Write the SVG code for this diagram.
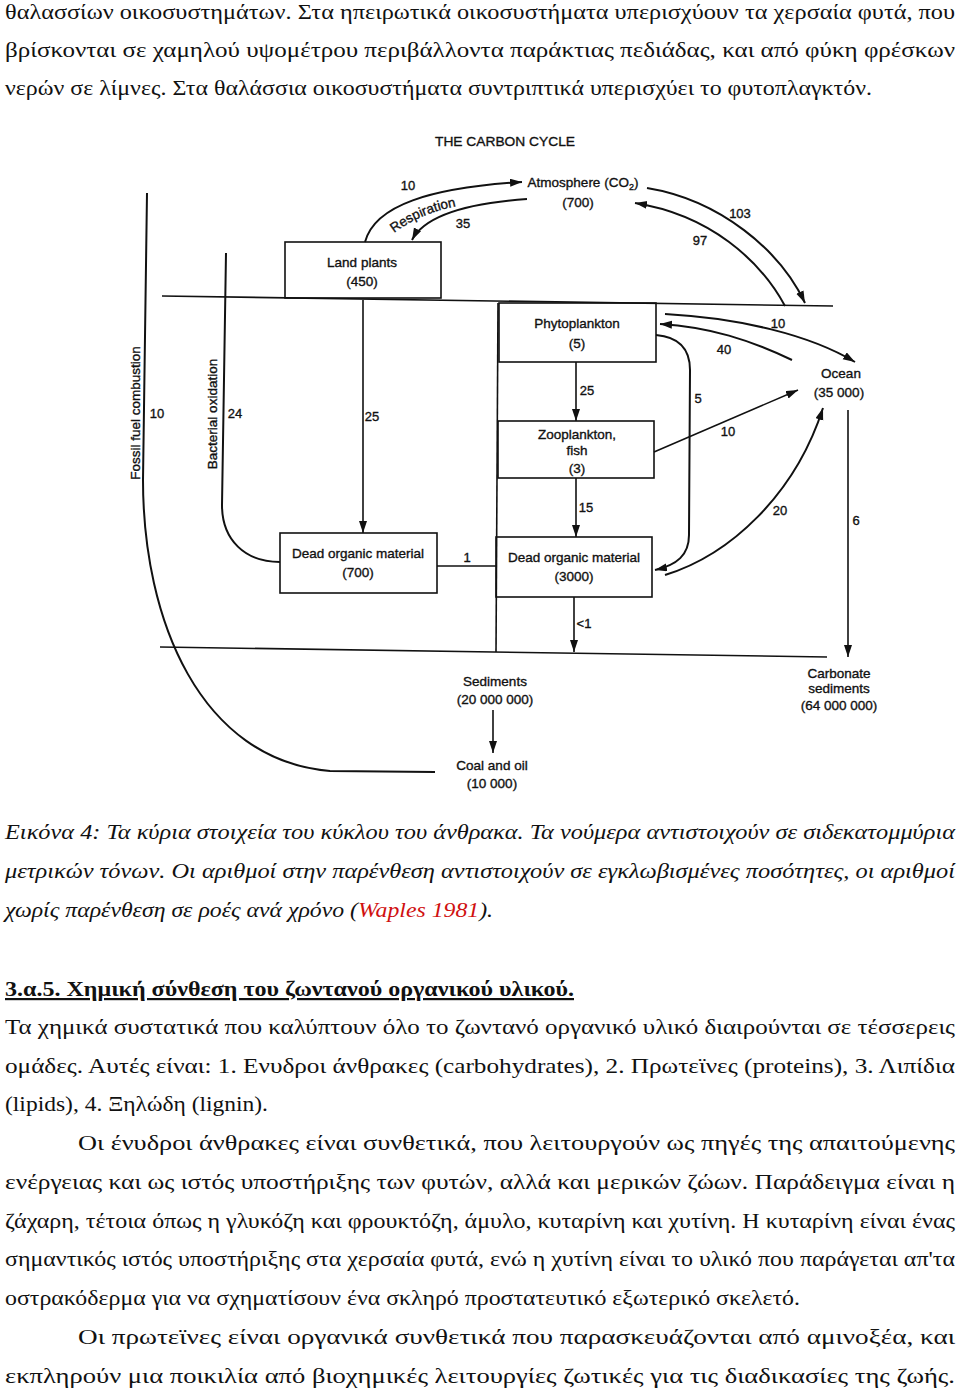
<svg xmlns="http://www.w3.org/2000/svg" width="960" height="1390" viewBox="0 0 960 1390">
<style>
.body{font-family:"Liberation Serif","Times New Roman",serif;font-size:22px;fill:#111}
.it{font-style:italic}
.lbl{font-family:"Liberation Sans",Arial,Helvetica,sans-serif;font-size:13.5px;fill:#111;stroke:#111;stroke-width:0.35;text-anchor:middle}
.num{font-family:"Liberation Sans",Arial,Helvetica,sans-serif;font-size:13px;fill:#111;stroke:#111;stroke-width:0.35;text-anchor:middle}
.box{fill:none;stroke:#111;stroke-width:1.6}
.ln{fill:none;stroke:#111;stroke-width:1.6}
.arc{fill:none;stroke:#111;stroke-width:2}
.ar{marker-end:url(#ah)}
</style>
<defs>
<marker id="ah" markerUnits="userSpaceOnUse" markerWidth="13" markerHeight="9" refX="12" refY="4" orient="auto">
<path d="M0,0 L12,4 L0,8 z" fill="#111"/>
</marker>
<path id="resp" d="M388,238 Q418,212 464,205"/>
</defs>
<rect width="960" height="1390" fill="#fff"/>

<g id="text-top">
<text class="body" x="5" y="19" textLength="950" lengthAdjust="spacingAndGlyphs">θαλασσίων οικοσυστημάτων. Στα ηπειρωτικά οικοσυστήματα υπερισχύουν τα χερσαία φυτά, που</text>
<text class="body" x="5" y="57" textLength="950" lengthAdjust="spacingAndGlyphs">βρίσκονται σε χαμηλού υψομέτρου περιβάλλοντα παράκτιας πεδιάδας, και από φύκη φρέσκων</text>
<text class="body" x="5" y="95" textLength="867" lengthAdjust="spacingAndGlyphs">νερών σε λίμνες. Στα θαλάσσια οικοσυστήματα συντριπτικά υπερισχύει το φυτοπλαγκτόν.</text>
</g>

<g id="title"><text class="lbl" x="505" y="146" textLength="140" lengthAdjust="spacingAndGlyphs">THE CARBON CYCLE</text></g>

<g id="connectors">
<path class="ln" d="M162,296 L833,306"/>
<path class="ln" d="M160,647 L827,657"/>
<path class="ln" d="M498,303 L496,652"/>
<path class="arc" d="M147,193 L143,480 C143,620 200,760 330,771 L435,772"/>
<path class="arc" d="M226,253 L222,505 C222,540 245,562 280,562"/>
<path class="arc ar" d="M365,242 C375,205 430,188 522,182"/>
<path class="arc ar" d="M527,199 C470,203 425,215 412,240"/>
<path class="arc ar" d="M647,188 C720,200 780,250 805,303"/>
<path class="arc ar" d="M785,306 C760,260 710,215 635,203"/>
<path class="arc ar" d="M665,314 C740,318 810,335 855,362"/>
<path class="arc ar" d="M792,360 C750,340 710,327 660,324"/>
<path class="arc ar" d="M656,335 C680,337 690,350 690,370 L689,535 C689,555 677,565 655,570"/>
<path class="ln ar" d="M654,452 L798,390"/>
<path class="arc ar" d="M665,575 C730,555 795,495 823,408"/>
<path class="ln ar" d="M848,410 L848,657"/>
<path class="ln ar" d="M363,300 L363,533"/>
<path class="ln ar" d="M576,362 L576,421"/>
<path class="ln ar" d="M576,478 L576,537"/>
<path class="ln ar" d="M574,597 L574,652"/>
<path class="ln" d="M437,566 L496,566"/>
<path class="ln ar" d="M493,710 L493,753"/>
<text class="num" x="408" y="190">10</text>
<text class="num" x="463" y="228">35</text>
<text class="lbl" font-size="13"><textPath href="#resp" startOffset="50%">Respiration</textPath></text>
<text class="num" x="740" y="218">103</text>
<text class="num" x="700" y="245">97</text>
<text class="num" x="778" y="328">10</text>
<text class="num" x="724" y="354">40</text>
<text class="num" x="698" y="403">5</text>
<text class="num" x="728" y="436">10</text>
<text class="num" x="780" y="515">20</text>
<text class="num" x="856" y="525">6</text>
<text class="num" x="372" y="421">25</text>
<text class="num" x="587" y="395">25</text>
<text class="num" x="586" y="512">15</text>
<text class="num" x="467" y="562">1</text>
<text class="num" x="584" y="628">&lt;1</text>
<text class="num" x="157" y="418">10</text>
<text class="num" x="235" y="418">24</text>
<text class="lbl" transform="translate(140,413) rotate(-90)">Fossil fuel combustion</text>
<text class="lbl" transform="translate(217,414) rotate(-90)">Bacterial oxidation</text>
</g>

<g id="atmosphere">
<text class="lbl" x="583" y="187">Atmosphere (CO<tspan font-size="9" dy="3">2</tspan><tspan dy="-3">)</tspan></text>
<text class="lbl" x="578" y="207">(700)</text>
</g>
<g id="land-plants">
<rect class="box" x="285" y="242" width="156" height="56"/>
<text class="lbl" x="362" y="267">Land plants</text>
<text class="lbl" x="362" y="286">(450)</text>
</g>
<g id="phytoplankton">
<rect class="box" x="499" y="303" width="157" height="59"/>
<text class="lbl" x="577" y="328">Phytoplankton</text>
<text class="lbl" x="577" y="348">(5)</text>
</g>
<g id="zooplankton">
<rect class="box" x="498" y="421" width="156" height="57"/>
<text class="lbl" x="577" y="439">Zooplankton,</text>
<text class="lbl" x="577" y="455">fish</text>
<text class="lbl" x="577" y="473">(3)</text>
</g>
<g id="dead-land">
<rect class="box" x="280" y="533" width="157" height="60"/>
<text class="lbl" x="358" y="558">Dead organic material</text>
<text class="lbl" x="358" y="577">(700)</text>
</g>
<g id="dead-ocean">
<rect class="box" x="496" y="537" width="156" height="60"/>
<text class="lbl" x="574" y="562">Dead organic material</text>
<text class="lbl" x="574" y="581">(3000)</text>
</g>
<g id="ocean">
<text class="lbl" x="841" y="378">Ocean</text>
<text class="lbl" x="839" y="397">(35 000)</text>
</g>
<g id="carbonate">
<text class="lbl" x="839" y="678">Carbonate</text>
<text class="lbl" x="839" y="693">sediments</text>
<text class="lbl" x="839" y="710">(64 000 000)</text>
</g>
<g id="sediments">
<text class="lbl" x="495" y="686">Sediments</text>
<text class="lbl" x="495" y="704">(20 000 000)</text>
</g>
<g id="coal">
<text class="lbl" x="492" y="770">Coal and oil</text>
<text class="lbl" x="492" y="788">(10 000)</text>
</g>

<g id="caption">
<text class="body it" x="5" y="839" textLength="950" lengthAdjust="spacingAndGlyphs">Εικόνα 4: Τα κύρια στοιχεία του κύκλου του άνθρακα. Τα νούμερα αντιστοιχούν σε σιδεκατομμύρια</text>
<text class="body it" x="5" y="878" textLength="950" lengthAdjust="spacingAndGlyphs">μετρικών τόνων. Οι αριθμοί στην παρένθεση αντιστοιχούν σε εγκλωβισμένες ποσότητες, οι αριθμοί</text>
<text class="body it" x="5" y="917" textLength="488" lengthAdjust="spacingAndGlyphs">χωρίς παρένθεση σε ροές ανά χρόνο (<tspan fill="#d01010">Waples 1981</tspan>).</text>
</g>

<g id="text-bottom">
<text class="body" x="5" y="996" font-weight="bold" text-decoration="underline" textLength="569" lengthAdjust="spacingAndGlyphs">3.α.5. Χημική σύνθεση του ζωντανού οργανικού υλικού.</text>
<text class="body" x="5" y="1034" textLength="950" lengthAdjust="spacingAndGlyphs">Τα χημικά συστατικά που καλύπτουν όλο το ζωντανό οργανικό υλικό διαιρούνται σε τέσσερεις</text>
<text class="body" x="5" y="1073" textLength="950" lengthAdjust="spacingAndGlyphs">ομάδες. Αυτές είναι: 1. Ενυδροι άνθρακες (carbohydrates), 2. Πρωτεϊνες (proteins), 3. Λιπίδια</text>
<text class="body" x="5" y="1111" textLength="263" lengthAdjust="spacingAndGlyphs">(lipids), 4. Ξηλώδη (lignin).</text>
<text class="body" x="78" y="1150" textLength="877" lengthAdjust="spacingAndGlyphs">Οι ένυδροι άνθρακες είναι συνθετικά, που λειτουργούν ως πηγές της απαιτούμενης</text>
<text class="body" x="5" y="1189" textLength="950" lengthAdjust="spacingAndGlyphs">ενέργειας και ως ιστός υποστήριξης των φυτών, αλλά και μερικών ζώων. Παράδειγμα είναι η</text>
<text class="body" x="5" y="1228" textLength="950" lengthAdjust="spacingAndGlyphs">ζάχαρη, τέτοια όπως η γλυκόζη και φρουκτόζη, άμυλο, κυταρίνη και χυτίνη. Η κυταρίνη είναι ένας</text>
<text class="body" x="5" y="1266" textLength="950" lengthAdjust="spacingAndGlyphs">σημαντικός ιστός υποστήριξης στα χερσαία φυτά, ενώ η χυτίνη είναι το υλικό που παράγεται απ'τα</text>
<text class="body" x="5" y="1305" textLength="795" lengthAdjust="spacingAndGlyphs">οστρακόδερμα για να σχηματίσουν ένα σκληρό προστατευτικό εξωτερικό σκελετό.</text>
<text class="body" x="78" y="1344" textLength="877" lengthAdjust="spacingAndGlyphs">Οι πρωτεϊνες είναι οργανικά συνθετικά που παρασκευάζονται από αμινοξέα, και</text>
<text class="body" x="5" y="1383" textLength="950" lengthAdjust="spacingAndGlyphs">εκπληρούν μια ποικιλία από βιοχημικές λειτουργίες ζωτικές για τις διαδικασίες της ζωής.</text>
</g>
</svg>
